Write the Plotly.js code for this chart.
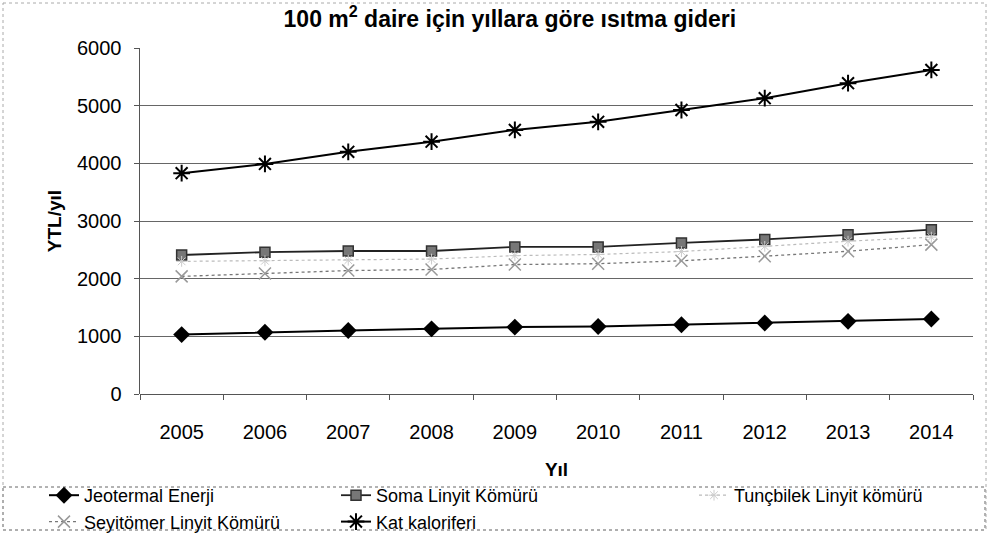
<!DOCTYPE html>
<html>
<head>
<meta charset="utf-8">
<script src="https://cdn.plot.ly/plotly-3.0.1.min.js"></script>
<style>html,body{margin:0;padding:0;background:#fff;}#chart{width:990px;height:560px;}</style>
</head>
<body>
<div id="chart"></div>
<script>
const years = ['2005','2006','2007','2008','2009','2010','2011','2012','2013','2014'];
const jeotermal = [1030, 1070, 1100, 1130, 1160, 1170, 1200, 1230, 1260, 1300];
const soma = [2410, 2460, 2480, 2480, 2550, 2550, 2620, 2680, 2760, 2850];
const tuncbilek = [2300, 2310, 2320, 2340, 2400, 2420, 2470, 2560, 2650, 2720];
const seyitomer = [2040, 2090, 2140, 2160, 2245, 2260, 2310, 2390, 2475, 2590];
const katKaloriferi = [3830, 3990, 4200, 4375, 4580, 4720, 4925, 5130, 5390, 5620];
const yTicks = [0, 1000, 2000, 3000, 4000, 5000, 6000];

// plot area in pixels: left 140, right 973, top 48, bottom 394
const L = 140, R = 973, T = 48, B = 394;
const px = x => (x - L) / (R - L);
const py = y => (B - y) / (B - T);

const font = '"Liberation Sans", Arial, sans-serif';

const traces = [
  {name: 'Jeotermal Enerji', x: years, y: jeotermal, mode: 'lines+markers', legend: 'legend',
   line: {color: '#000', width: 2}, marker: {symbol: 'diamond', size: 13, color: '#000'}},
  {name: 'Seyitömer Linyit Kömürü', x: years, y: seyitomer, mode: 'lines+markers', legend: 'legend',
   line: {color: '#777', width: 1.3, dash: 'dot'}, marker: {symbol: 'x-thin-open', size: 12, color: '#999', line: {width: 1.5, color: '#999'}}},
  {name: 'Soma Linyit Kömürü', x: years, y: soma, mode: 'lines+markers', legend: 'legend2',
   line: {color: '#222', width: 1.8}, marker: {symbol: 'square', size: 10, color: '#777', line: {width: 1.5, color: '#333'}}},
  {name: 'Kat kaloriferi', x: years, y: katKaloriferi, mode: 'lines+markers', legend: 'legend2',
   line: {color: '#000', width: 2}, marker: {symbol: 'asterisk-open', size: 14, color: '#000', line: {width: 2, color: '#000'}}},
  {name: 'Tunçbilek Linyit kömürü', x: years, y: tuncbilek, mode: 'lines+markers', legend: 'legend3',
   line: {color: '#bbb', width: 1.2, dash: 'dot'}, marker: {symbol: 'asterisk-open', size: 9, color: '#ccc', line: {width: 1, color: '#ccc'}}}
];

const legendCommon = {
  orientation: 'v', xanchor: 'left', yanchor: 'top', y: py(477),
  font: {family: font, size: 18, color: '#000'}, bgcolor: 'rgba(0,0,0,0)',
  borderwidth: 0, tracegroupgap: 0, itemclick: false
};

const layout = {
  width: 990, height: 560,
  margin: {l: L, r: 990 - R, t: T, b: 560 - B},
  paper_bgcolor: '#fff', plot_bgcolor: '#fff',
  title: {text: '<b>100 m<sup>2</sup> daire için yıllara göre ısıtma gideri</b>',
          font: {family: font, size: 23, color: '#000'}, x: 0.515, xanchor: 'center', y: 1 - 19/560, yanchor: 'middle'},
  xaxis: {
    type: 'category', range: [-0.5, 9.5], tickson: 'boundaries', ticks: 'outside', ticklen: 5, tickcolor: '#555',
    showgrid: false, showline: false, zeroline: false, ticklabelstandoff: 24,
    tickfont: {family: font, size: 20, color: '#000'},
    title: {text: '<b>Yıl</b>', font: {family: font, size: 19, color: '#000'}, standoff: 20}
  },
  yaxis: {
    range: [0, 6000], tickvals: yTicks, ticks: 'outside', ticklen: 5, tickcolor: '#555',
    showgrid: true, gridcolor: '#666', gridwidth: 1, showline: true, linecolor: '#555', linewidth: 1.5,
    zeroline: true, zerolinecolor: '#555', zerolinewidth: 1, ticklabelstandoff: 8,
    tickfont: {family: font, size: 20, color: '#000'},
    title: {text: '<b>YTL/yıl</b>', font: {family: font, size: 19, color: '#000'}, standoff: 10}
  },
  legend: Object.assign({}, legendCommon, {x: px(44)}),
  legend2: Object.assign({}, legendCommon, {x: px(336)}),
  legend3: Object.assign({}, legendCommon, {x: px(694)}),
  showlegend: true,
  shapes: [
    {type: 'rect', xref: 'paper', yref: 'paper', x0: px(3), x1: px(985), y0: py(487), y1: py(530),
     line: {color: '#666', width: 1, dash: 'dot'}, fillcolor: 'rgba(0,0,0,0)'},
    {type: 'rect', xref: 'paper', yref: 'paper', x0: px(3), x1: px(986), y0: py(3), y1: py(530),
     line: {color: '#aaa', width: 1, dash: 'dot'}, fillcolor: 'rgba(0,0,0,0)'}
  ]
};

Plotly.newPlot('chart', traces, layout, {displayModeBar: false, staticPlot: true});
</script>
</body>
</html>
